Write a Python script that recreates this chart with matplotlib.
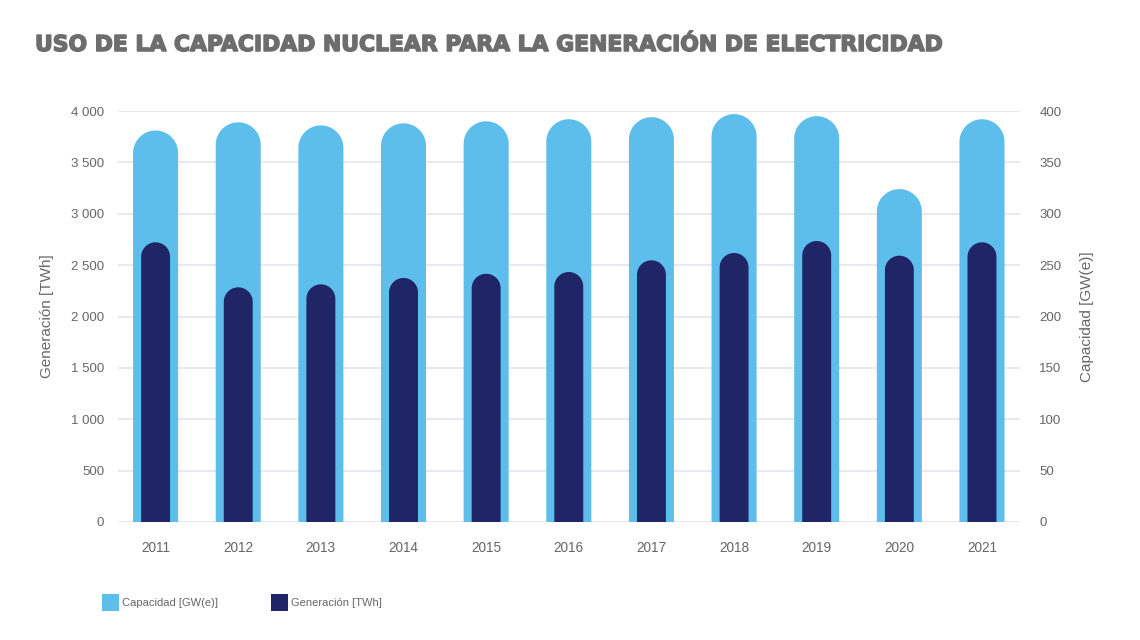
import matplotlib
matplotlib.use("Agg")
import numpy as np
import matplotlib.pyplot as plt
from matplotlib.patches import Rectangle, PathPatch
from matplotlib.path import Path
import matplotlib.patheffects as pe

years = ["2011", "2012", "2013", "2014", "2015", "2016", "2017", "2018", "2019", "2020", "2021"]
capacity_gw = [381, 389, 386, 388, 390, 392, 394, 397, 395, 324, 392]
generation_twh = [2722, 2284, 2313, 2375, 2416, 2433, 2547, 2618, 2735, 2592, 2722]
left_ticks = [0, 500, 1000, 1500, 2000, 2500, 3000, 3500, 4000]
right_ticks = [0, 50, 100, 150, 200, 250, 300, 350, 400]

LIGHT = "#5ebeeb"
DARK = "#1f2566"
GRID = "#e4e4ee"
TXT = "#666666"

plt.rcParams['font.family'] = ['Liberation Sans', 'DejaVu Sans']

W, H = 1140, 640
fig = plt.figure(figsize=(W / 100, H / 100), dpi=100)
fig.patch.set_facecolor("white")

ax_left_px, ax_right_px, ax_top_px, ax_bot_px = 118, 1020, 111, 522
rect = [ax_left_px / W, 1 - ax_bot_px / H, (ax_right_px - ax_left_px) / W, (ax_bot_px - ax_top_px) / H]
ax = fig.add_axes(rect)          # generation (left)
ax2 = ax.twinx()                 # capacity (right)
ax.set_zorder(ax2.get_zorder() + 1)
ax.patch.set_visible(False)

x0, x1 = -0.455, 10.46
for a in (ax, ax2):
    a.set_xlim(x0, x1)
    for s in a.spines.values():
        s.set_visible(False)
ax.set_ylim(0, 4000)
ax2.set_ylim(0, 400)

ax_w_px = ax_right_px - ax_left_px
ax_h_px = ax_bot_px - ax_top_px
px_per_x = ax_w_px / (x1 - x0)

def rounded_bar(a, x, v, width, ymax, color):
    hw = width / 2
    r_px = hw * px_per_x
    r = r_px / ax_h_px * ymax
    t = np.linspace(0, np.pi, 40)
    arc = np.column_stack([x + hw * np.cos(t), (v - r) + r * np.sin(t)])
    verts = np.vstack([[x - hw, 0], [x + hw, 0], [x + hw, v - r], arc, [x - hw, 0]])
    codes = [Path.MOVETO] + [Path.LINETO] * (len(verts) - 2) + [Path.CLOSEPOLY]
    a.add_patch(PathPatch(Path(verts, codes), facecolor=color, edgecolor="none", zorder=3))

for i, v in enumerate(capacity_gw):
    rounded_bar(ax2, i, v, 0.545, 400, LIGHT)
for i, v in enumerate(generation_twh):
    rounded_bar(ax, i, v, 0.35, 4000, DARK)

ax2.set_yticks(right_ticks)
ax2.set_axisbelow(True)
ax2.yaxis.grid(True, color=GRID, linewidth=1.2, zorder=0)
ax.set_yticks(left_ticks)
ax.set_yticklabels([f"{t:,}".replace(",", " ") for t in left_ticks])
ax2.set_yticklabels([str(t) for t in right_ticks])
ax.set_xticks(range(len(years)))
ax.set_xticklabels(years)

ax.tick_params(axis="y", length=0, pad=10, labelsize=9.5, labelcolor=TXT)
ax2.tick_params(axis="y", length=0, pad=14, labelsize=9.5, labelcolor=TXT)
ax.tick_params(axis="x", length=0, pad=14, labelsize=9.8, labelcolor=TXT)

ax.set_ylabel("Generación [TWh]", fontsize=11, color=TXT, labelpad=12)
ax2.set_ylabel("Capacidad [GW(e)]", fontsize=11, color=TXT, labelpad=13)

fig.text(35 / W, 1 - 45 / H, "USO DE LA CAPACIDAD NUCLEAR PARA LA GENERACIÓN DE ELECTRICIDAD",
         fontsize=15.75, fontweight="heavy", color="#6d6d6d", va="center", ha="left",
         family=['DejaVu Sans'],
         path_effects=[pe.withStroke(linewidth=1.1, foreground="#6d6d6d")])

def leg(xpx, color, label):
    fig.patches.append(Rectangle((xpx / W, 1 - 611 / H), 17 / W, 17 / H, transform=fig.transFigure,
                                 facecolor=color, edgecolor="none"))
    fig.text((xpx + 20) / W, 1 - 603 / H, label, fontsize=8, color=TXT, va="center", ha="left")

leg(102, LIGHT, "Capacidad [GW(e)]")
leg(271, DARK, "Generación [TWh]")

fig.savefig("out.png", dpi=100)
